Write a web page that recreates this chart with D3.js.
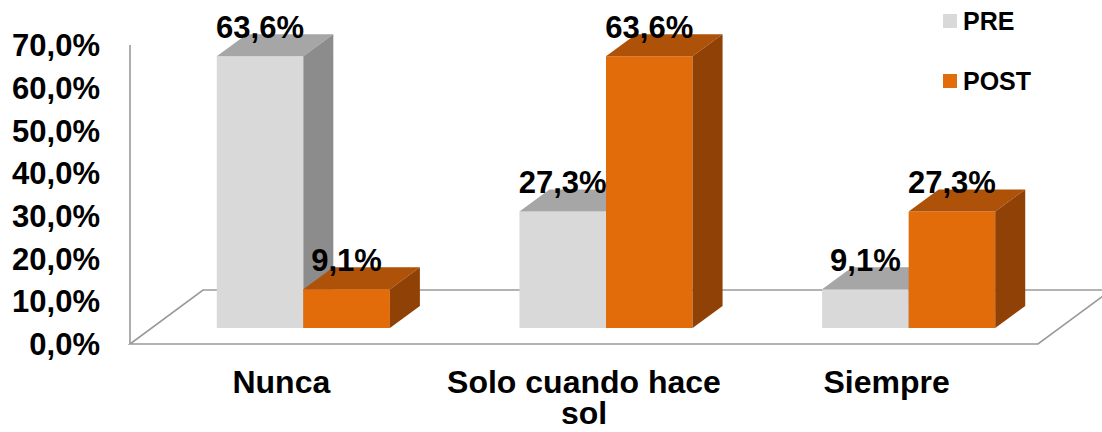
<!DOCTYPE html>
<html>
<head>
<meta charset="utf-8">
<script src="https://cdn.jsdelivr.net/npm/d3@7/dist/d3.min.js"></script>
<style>
  html, body { margin: 0; padding: 0; background: #fff; }
  svg { display: block; font-family: "Liberation Sans", Arial, sans-serif; font-weight: bold; }
</style>
</head>
<body>
<svg id="chart" width="1102" height="432"></svg>
<script>
// Data
const categories = ["Nunca", "Solo cuando hace sol", "Siempre"];
const categoryLines = [["Nunca"], ["Solo cuando hace", "sol"], ["Siempre"]];
const seriesNames = ["PRE", "POST"];
const preValues = [63.6, 27.3, 9.1];
const postValues = [9.1, 63.6, 27.3];
const yTicks = [0, 10, 20, 30, 40, 50, 60, 70];

// Styling
const faceColors = {
  PRE:  { front: "#d9d9d9", top: "#a6a6a6", side: "#8c8c8c" },
  POST: { front: "#e36c0a", top: "#ad5208", side: "#8f4106" }
};
const fmt = v => v.toFixed(1).replace(".", ",") + "%";

const svg = d3.select("#chart");

// Front plane of the 3D box
const x = d3.scaleBand().domain(categories).range([130, 1038]).padding(0);
const y = d3.scaleLinear().domain([0, 70]).range([344, 45]);

// Projection offsets
const floorDepth = { dx: 73, dy: -54 };   // whole floor depth
const barShift = { dx: 22, dy: -16 };     // front face of bars
const barDepth = { dx: 30, dy: -22 };     // bar thickness
const barW = x.bandwidth() * 0.286;

// Floor
const fx0 = x.range()[0], fx1 = x.range()[1], fy = y(0);
svg.append("path")
  .attr("d", `M${fx0},${fy} L${fx1},${fy} L${fx1 + floorDepth.dx},${fy + floorDepth.dy} L${fx0 + floorDepth.dx},${fy + floorDepth.dy} Z`)
  .attr("fill", "none")
  .attr("stroke", "#9a9a9a")
  .attr("stroke-width", 1.6);

// Vertical axis line
svg.append("line")
  .attr("x1", fx0).attr("x2", fx0)
  .attr("y1", y(70)).attr("y2", y(0))
  .attr("stroke", "#9a9a9a")
  .attr("stroke-width", 1.6);

// Y tick labels
svg.append("g").selectAll("text")
  .data(yTicks)
  .join("text")
  .attr("x", 100)
  .attr("y", d => y(d))
  .attr("dy", "0.36em")
  .attr("text-anchor", "end")
  .attr("font-size", 31)
  .attr("fill", "#000")
  .text(d => fmt(d));

// Bars
const bars = [];
categories.forEach((c, i) => {
  const cx = x(c) + x.bandwidth() / 2 + barShift.dx;
  bars.push({ series: "PRE", value: preValues[i], x0: cx - barW, x1: cx });
  bars.push({ series: "POST", value: postValues[i], x0: cx, x1: cx + barW });
});

const gBars = svg.append("g");
bars.forEach(b => {
  const base = y(0) + barShift.dy;
  const top = y(b.value) + barShift.dy;
  const col = faceColors[b.series];
  const g = gBars.append("g");
  // front
  g.append("path")
    .attr("d", `M${b.x0},${base} L${b.x1},${base} L${b.x1},${top} L${b.x0},${top} Z`)
    .attr("fill", col.front);
  // top
  g.append("path")
    .attr("d", `M${b.x0},${top} L${b.x1},${top} L${b.x1 + barDepth.dx},${top + barDepth.dy} L${b.x0 + barDepth.dx},${top + barDepth.dy} Z`)
    .attr("fill", col.top);
  // side
  g.append("path")
    .attr("d", `M${b.x1},${base} L${b.x1},${top} L${b.x1 + barDepth.dx},${top + barDepth.dy} L${b.x1 + barDepth.dx},${base + barDepth.dy} Z`)
    .attr("fill", col.side);
});

// Value labels
svg.append("g").selectAll("text")
  .data(bars)
  .join("text")
  .attr("x", d => (d.x0 + d.x1) / 2)
  .attr("y", d => y(d.value) + barShift.dy - 18)
  .attr("text-anchor", "middle")
  .attr("font-size", 31)
  .attr("fill", "#000")
  .text(d => fmt(d.value));

// Category labels
const gCat = svg.append("g");
categories.forEach((c, i) => {
  const t = gCat.append("text")
    .attr("x", x(c) + x.bandwidth() / 2)
    .attr("y", 393)
    .attr("text-anchor", "middle")
    .attr("font-size", 32)
    .attr("fill", "#000");
  categoryLines[i].forEach((line, k) => {
    t.append("tspan")
      .attr("x", x(c) + x.bandwidth() / 2)
      .attr("dy", k === 0 ? 0 : 31)
      .text(line);
  });
});

// Legend
const legend = svg.append("g");
seriesNames.forEach((s, i) => {
  const ly = 21 + i * 60;
  legend.append("rect")
    .attr("x", 943).attr("y", ly - 7)
    .attr("width", 14).attr("height", 14)
    .attr("fill", faceColors[s].front);
  legend.append("text")
    .attr("x", 963).attr("y", ly)
    .attr("dy", "0.36em")
    .attr("font-size", 25)
    .attr("fill", "#000")
    .text(s);
});
</script>
</body>
</html>
